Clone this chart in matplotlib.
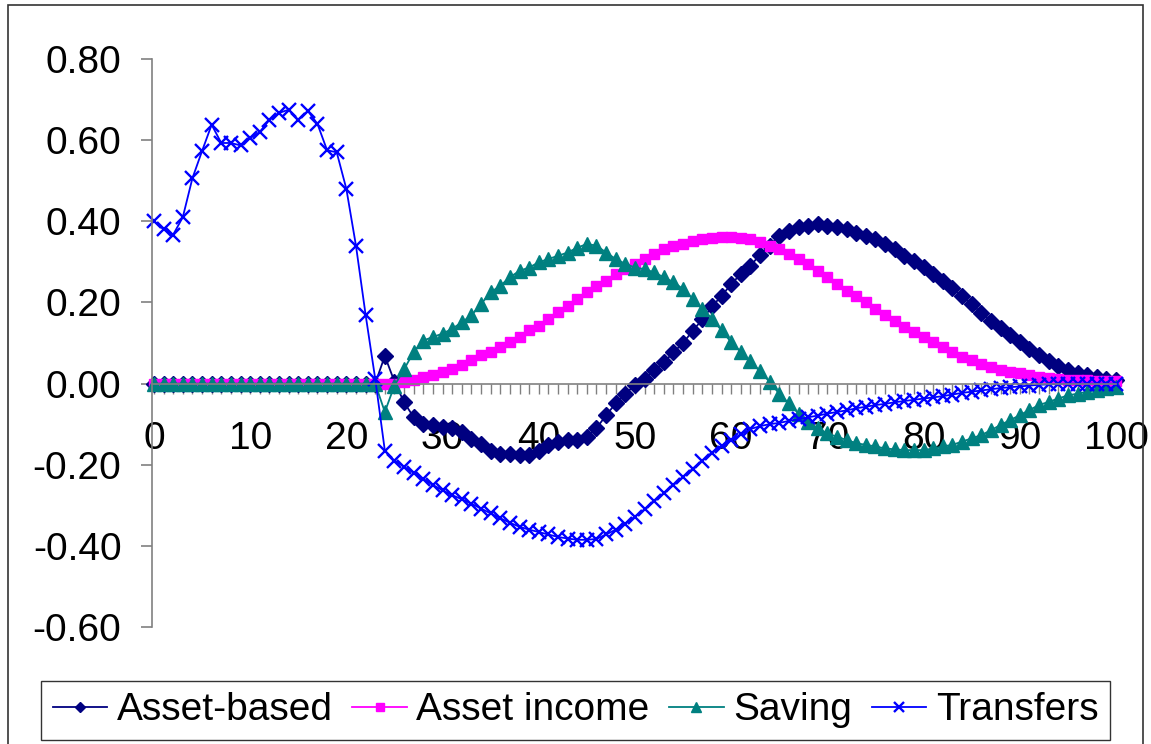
import matplotlib
matplotlib.use("Agg")
import matplotlib.pyplot as plt
from matplotlib.patches import Rectangle

# ages 0..100
ages = list(range(101))

asset_based = [
    0.0, 0.0, 0.0, 0.0, 0.0, 0.0, 0.0, 0.0, 0.0, 0.0, 0.0, 0.0,
    0.0, 0.0, 0.0, 0.0, 0.0, 0.0, 0.0, 0.0, 0.0, 0.0, 0.0, 0.0,
    0.068, 0.005, -0.046, -0.083, -0.100, -0.103, -0.107, -0.110, -0.120,
    -0.136, -0.148, -0.165, -0.173, -0.173, -0.177, -0.177, -0.165, -0.152,
    -0.144, -0.140, -0.140, -0.132, -0.110, -0.078, -0.049, -0.025, -0.004,
    0.012, 0.033, 0.052, 0.077, 0.100, 0.130, 0.158, 0.190, 0.216, 0.245,
    0.270, 0.290, 0.318, 0.340, 0.364, 0.376, 0.385, 0.389, 0.393, 0.389,
    0.385, 0.380, 0.372, 0.364, 0.356, 0.344, 0.331, 0.315, 0.302, 0.288,
    0.270, 0.252, 0.235, 0.215, 0.195, 0.175, 0.155, 0.137, 0.120, 0.103,
    0.086, 0.070, 0.056, 0.044, 0.034, 0.026, 0.020, 0.016, 0.012, 0.008,
]

asset_income = [
    0.0, 0.0, 0.0, 0.0, 0.0, 0.0, 0.0, 0.0, 0.0, 0.0, 0.0, 0.0, 0.0,
    0.0, 0.0, 0.0, 0.0, 0.0, 0.0, 0.0, 0.0, 0.0, 0.0, 0.0, 0.0,
    0.000, 0.004, 0.008, 0.016, 0.020, 0.029, 0.037, 0.045, 0.057, 0.070,
    0.078, 0.090, 0.102, 0.115, 0.131, 0.143, 0.160, 0.176, 0.192, 0.209,
    0.225, 0.241, 0.254, 0.270, 0.282, 0.295, 0.307, 0.319, 0.331, 0.340,
    0.344, 0.352, 0.356, 0.360, 0.362, 0.362, 0.360, 0.356, 0.350, 0.340,
    0.331, 0.319, 0.307, 0.295, 0.278, 0.262, 0.245, 0.229, 0.217, 0.200,
    0.184, 0.168, 0.155, 0.139, 0.127, 0.115, 0.102, 0.090, 0.078, 0.065,
    0.057, 0.049, 0.041, 0.033, 0.029, 0.025, 0.020, 0.016, 0.013, 0.012,
    0.010, 0.008, 0.008, 0.007, 0.007, 0.006,
]

saving = [
    0.0, 0.0, 0.0, 0.0, 0.0, 0.0, 0.0, 0.0, 0.0, 0.0, 0.0, 0.0,
    0.0, 0.0, 0.0, 0.0, 0.0, 0.0, 0.0, 0.0, 0.0, 0.0, 0.0, 0.0,
    -0.070, -0.005, 0.035, 0.078, 0.106, 0.115, 0.123, 0.135, 0.151, 0.168,
    0.196, 0.225, 0.241, 0.262, 0.278, 0.286, 0.299, 0.307, 0.315, 0.323,
    0.335, 0.344, 0.340, 0.323, 0.307, 0.295, 0.286, 0.282, 0.274, 0.262,
    0.250, 0.233, 0.209, 0.184, 0.160, 0.131, 0.102, 0.078, 0.055, 0.030,
    0.004, -0.025, -0.049, -0.074, -0.094, -0.110, -0.123, -0.131, -0.139,
    -0.147, -0.151, -0.155, -0.160, -0.162, -0.164, -0.164, -0.164, -0.160,
    -0.155, -0.151, -0.143, -0.135, -0.127, -0.115, -0.102, -0.090, -0.078,
    -0.065, -0.053, -0.045, -0.037, -0.029, -0.025, -0.020, -0.016, -0.012,
    -0.008,
]

transfers = [
    0.400, 0.380, 0.367, 0.410, 0.506, 0.573, 0.638, 0.593, 0.593, 0.587,
    0.605, 0.620, 0.650, 0.667, 0.675, 0.650, 0.672, 0.640, 0.575, 0.570,
    0.480, 0.340, 0.170, 0.012,
    -0.165, -0.190, -0.205, -0.220, -0.235, -0.250, -0.263, -0.275, -0.285,
    -0.296, -0.308, -0.320, -0.332, -0.343, -0.353, -0.360, -0.366, -0.372,
    -0.378, -0.382, -0.385, -0.385, -0.383, -0.372, -0.360, -0.345, -0.328,
    -0.310, -0.290, -0.270, -0.250, -0.230, -0.210, -0.190, -0.170, -0.153,
    -0.140, -0.125, -0.112, -0.105, -0.100, -0.097, -0.092, -0.088, -0.083,
    -0.079, -0.074, -0.070, -0.066, -0.061, -0.057, -0.053, -0.050, -0.046,
    -0.043, -0.040, -0.037, -0.034, -0.031, -0.027, -0.023, -0.020, -0.017,
    -0.014, -0.011, -0.009, -0.007, -0.005, -0.003, -0.002, -0.001, 0.000,
    0.000, 0.000, 0.000, 0.000, 0.000,
]

y_ticks = [-0.6, -0.4, -0.2, 0.0, 0.2, 0.4, 0.6, 0.8]
y_labels = ["-0.60", "-0.40", "-0.20", "0.00", "0.20", "0.40", "0.60", "0.80"]
x_labels = [str(a) if a % 10 == 0 else "" for a in ages]

W, H = 1151, 744
AXIS_GRAY = "#808080"
FONT = "Liberation Sans"
FS = 28

plt.rcParams["font.family"] = [FONT, "DejaVu Sans"]

fig = plt.figure(figsize=(W / 100, H / 100), dpi=100)
# outer chart border
fig.patches.append(Rectangle((8 / W, -0.01), (1143 - 8) / W, 1 - 5 / H + 0.01,
                             transform=fig.transFigure, fill=False,
                             edgecolor="#333333", linewidth=1.2))

ax = fig.add_axes([152 / W, 1 - 627 / H, (1116 - 152) / W, (627 - 59) / H])

series = [
    ("Asset-based", asset_based, "#000080", "D", 8.0, 1.0),
    ("Asset income", asset_income, "#FF00FF", "s", 7.5, 1.0),
    ("Saving", saving, "#008080", "^", 10.0, 1.0),
    ("Transfers", transfers, "#0000FF", "x", 10.0, 1.7),
]
for name, vals, col, mk, ms, mew in series:
    ax.plot(ages, vals, color=col, lw=1.3, marker=mk, ms=ms,
            markerfacecolor=col, markeredgecolor=col, markeredgewidth=mew,
            label=name, clip_on=False)

ax.set_xlim(-0.2, 100)
ax.set_ylim(-0.6, 0.8)

for s in ("top", "right"):
    ax.spines[s].set_visible(False)
ax.spines["bottom"].set_position(("data", 0))
ax.spines["left"].set_color(AXIS_GRAY)
ax.spines["bottom"].set_color(AXIS_GRAY)
ax.spines["left"].set_linewidth(1.2)
ax.spines["bottom"].set_linewidth(1.2)

ax.set_yticks(y_ticks)
ax.set_yticklabels(y_labels)
ax.set_xticks(ages)
ax.set_xticklabels(x_labels)
ax.tick_params(axis="y", direction="out", length=8, width=1.2,
               color=AXIS_GRAY, pad=14, labelsize=FS)
ax.tick_params(axis="x", direction="out", length=7, width=1.0,
               color=AXIS_GRAY, pad=20, labelsize=FS)

fig.legend(loc="lower left", bbox_to_anchor=(41 / W, 1 - 740 / H),
           ncol=4, frameon=True, fancybox=False,
           edgecolor="#000000", fontsize=FS, handlelength=1.4,
           handletextpad=0.25, columnspacing=0.5, borderpad=0.3,
           borderaxespad=0.0, markerscale=0.7)

fig.savefig("out.png", dpi=100)
